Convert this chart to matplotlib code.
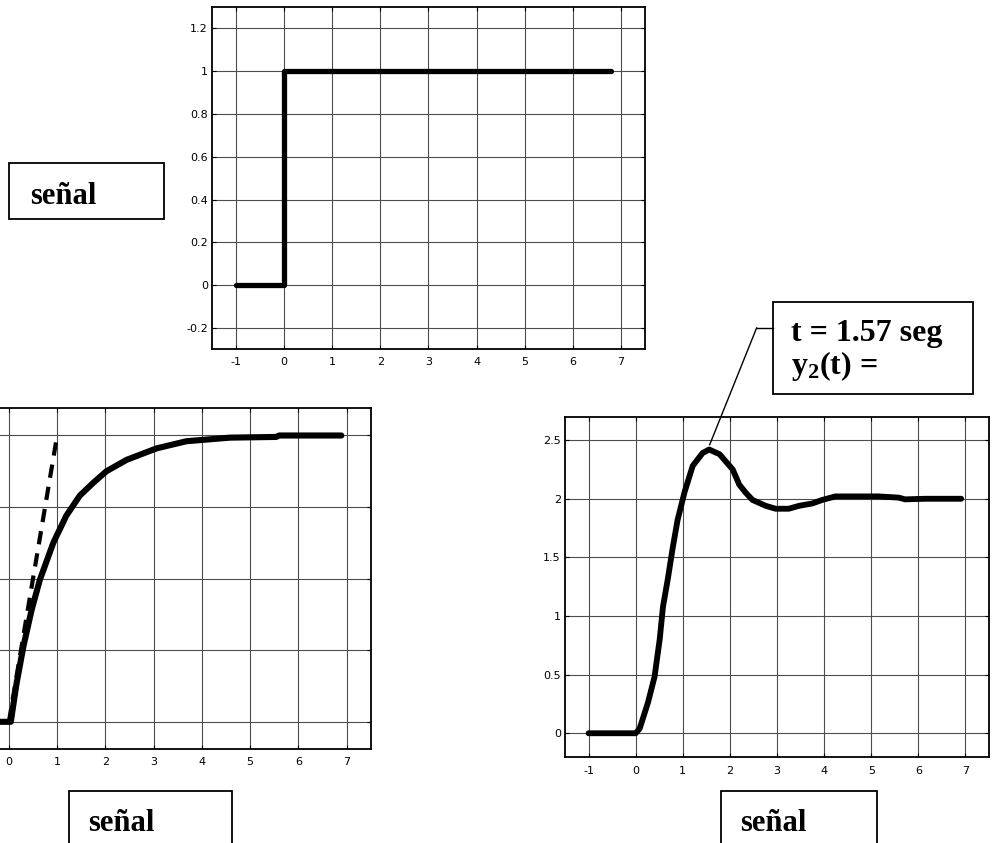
import matplotlib
matplotlib.use("Agg")
import matplotlib.pyplot as plt
from matplotlib.patches import Rectangle
from matplotlib.lines import Line2D

W, H = 992, 843
plt.rcParams['mathtext.fontset'] = 'custom'
plt.rcParams['mathtext.rm'] = 'Liberation Serif:bold'
plt.rcParams['mathtext.it'] = 'Liberation Serif:bold'
plt.rcParams['mathtext.bf'] = 'Liberation Serif:bold'

# ---------------- data ----------------
x_ticks = [-1, 0, 1, 2, 3, 4, 5, 6, 7]
x_ticks_left = [0, 1, 2, 3, 4, 5, 6, 7]

# step input
step_t = [-1, 0, 0, 6.8]
step_y = [0, 0, 1, 1]
top_yticks = [-0.2, 0, 0.2, 0.4, 0.6, 0.8, 1.0, 1.2]
top_yticklabels = ['-0.2', '0', '0.2', '0.4', '0.6', '0.8', '1', '1.2']

# first-order response
y1_t = [-1, 0.04, 0.16, 0.30, 0.47, 0.64, 0.92, 1.19, 1.47, 1.75, 2.02,
        2.44, 3.06, 3.68, 4.58, 5.54, 5.6, 6.89]
y1_v = [0, 0, 0.27, 0.525, 0.78, 0.99, 1.25, 1.44, 1.58, 1.67, 1.75,
        1.83, 1.91, 1.96, 1.985, 1.99, 2.0, 2.0]
tangent_t = [0, 1]
tangent_v = [0, 2]
left_yticks = [0, 0.5, 1.0, 1.5, 2.0]

# second-order response
y2_t = [-1, 0, 0.085, 0.26, 0.40, 0.51, 0.58, 0.68, 0.79, 0.89, 1.04, 1.21,
        1.42, 1.56, 1.78, 2.06, 2.2, 2.34, 2.48, 2.76, 2.97, 3.25, 3.47, 3.75,
        3.96, 4.24, 4.74, 5.16, 5.58, 5.72, 6.14, 6.91]
y2_v = [0, 0, 0.04, 0.26, 0.48, 0.80, 1.08, 1.31, 1.59, 1.82, 2.06, 2.28,
        2.39, 2.42, 2.38, 2.25, 2.12, 2.05, 1.99, 1.94, 1.915, 1.915, 1.94, 1.96,
        1.99, 2.02, 2.02, 2.02, 2.01, 1.995, 2.0, 2.0]
right_yticks = [0, 0.5, 1.0, 1.5, 2.0, 2.5]
right_yticklabels = ['0', '0.5', '1', '1.5', '2', '2.5']
peak_t, peak_y = 1.57, 2.46

box_label = 'señal'
ann_line1 = 't = 1.57 seg'
ann_line2 = r'$\mathrm{y_2(t)}$ ='

# ---------------- figure ----------------
fig = plt.figure(figsize=(W / 100, H / 100), dpi=100)
fig.patch.set_facecolor('white')


def fx(px):
    return px / W


def fy(py):
    return 1 - py / H


def style(ax, xlim, ylim, pad_x=5.5):
    ax.set_xlim(*xlim)
    ax.set_ylim(*ylim)
    ax.grid(True, color='0.3', lw=0.8)
    ax.set_axisbelow(True)
    ax.tick_params(direction='in', length=3, width=0.8, top=True, right=True,
                   labelsize=8, colors='black')
    ax.tick_params(axis='x', pad=pad_x)
    ax.tick_params(axis='y', pad=3)
    for s in ax.spines.values():
        s.set_linewidth(1.3)
        s.set_color('black')


line_kw = dict(color='black', solid_capstyle='round', solid_joinstyle='round')

# top axes (step)
ax_t = fig.add_axes([fx(212), fy(349.3), fx(645 - 212), (349.3 - 7) / H])
ax_t.plot(step_t, step_y, lw=3.8, **line_kw)
ax_t.set_xticks(x_ticks)
ax_t.set_xticklabels([str(v) for v in x_ticks])
ax_t.set_yticks(top_yticks)
ax_t.set_yticklabels(top_yticklabels)
style(ax_t, (-1.5, 7.5), (-0.3, 1.3))

# bottom-left axes (first order)
ax_l = fig.add_axes([fx(-63.5), fy(749), fx(370.8 + 63.5), (749 - 408.3) / H])
ax_l.plot(tangent_t, tangent_v, lw=3.0, color='black', dashes=(3.2, 2.2))
ax_l.plot(y1_t, y1_v, lw=4.4, **line_kw)
ax_l.set_xticks(x_ticks_left)
ax_l.set_xticklabels([str(v) for v in x_ticks_left])
ax_l.set_yticks(left_yticks)
ax_l.set_yticklabels([])
style(ax_l, (-1.5, 7.5), (-0.19, 2.19))

# bottom-right axes (second order)
ax_r = fig.add_axes([fx(565), fy(756.7), fx(989 - 565), (756.7 - 416.7) / H])
ax_r.plot(y2_t, y2_v, lw=4.2, **line_kw)
ax_r.set_xticks(x_ticks)
ax_r.set_xticklabels([str(v) for v in x_ticks])
ax_r.set_yticks(right_yticks)
ax_r.set_yticklabels(right_yticklabels)
style(ax_r, (-1.5, 7.5), (-0.2, 2.7), pad_x=6.5)

# annotation leader line
ax_r.annotate('', xy=(peak_t, peak_y), xycoords='data',
              xytext=(fx(756.7), fy(327.7)), textcoords='figure fraction',
              arrowprops=dict(arrowstyle='-', lw=1.0, color='black',
                              shrinkA=0, shrinkB=0),
              annotation_clip=False)
fig.add_artist(Line2D([fx(756.7), fx(773.3)], [fy(327.7), fy(327.7)],
                      transform=fig.transFigure, color='black', lw=1.0))

# text boxes
serif = dict(family='Liberation Serif', fontweight='bold', color='black')


def box(x0, y0, x1, y1):
    fig.add_artist(Rectangle((fx(x0), fy(y1)), fx(x1 - x0), (y1 - y0) / H,
                             transform=fig.transFigure, facecolor='white',
                             edgecolor='black', lw=1.3))


box(9.3, 163, 164, 219)
fig.text(fx(30), fy(204), box_label, fontsize=22, ha='left', va='baseline', **serif)

box(69, 790.7, 231.7, 870)
fig.text(fx(88.5), fy(830.7), box_label, fontsize=22, ha='left', va='baseline', **serif)

box(721, 790.7, 877.3, 870)
fig.text(fx(740.5), fy(830.7), box_label, fontsize=22, ha='left', va='baseline', **serif)

box(773.3, 302.3, 973.3, 394.3)
fig.text(fx(791), fy(341), ann_line1, fontsize=23, ha='left', va='baseline', **serif)
fig.text(fx(791), fy(374), ann_line2, fontsize=23, ha='left', va='baseline', **serif)

fig.savefig('out.png', dpi=100, facecolor='white')
